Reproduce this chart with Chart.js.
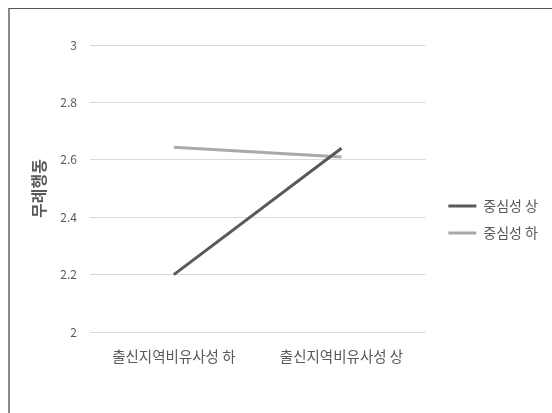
<!DOCTYPE html>
<html>
<head>
<meta charset="utf-8">
<script src="https://cdn.jsdelivr.net/npm/chart.js"></script>
<style>
  body { margin: 0; background: #fff; }
  #wrap { position: relative; width: 552px; height: 413px; overflow: hidden; }
  #frame { position: absolute; left: 8px; top: 8px; width: 700px; height: 600px;
           border-left: 2px solid #8a8a8a; border-top: 1px solid #555; }
  #chart { position: absolute; left: 0; top: 0; }
</style>
</head>
<body>
<div id="wrap">
  <div id="frame"></div>
  <canvas id="chart" width="552" height="413"></canvas>
</div>
<script>
// categories and series
const categories = ['출신지역비유사성 하', '출신지역비유사성 상'];
const seriesNames = ['중심성 상', '중심성 하'];
const highValues = [2.2, 2.64];
const lowValues = [2.644, 2.61];
const yTitle = '무례행동';
const yMin = 2;
const yMax = 3;
const yStep = 0.2;

const fontFamily = "'Noto Sans CJK KR', 'Noto Sans', sans-serif";
const textColor = '#595959';

const chartCtx = document.getElementById('chart').getContext('2d');
const chart = new Chart(chartCtx, {
  type: 'line',
  data: {
    labels: categories,
    datasets: [
      {
        label: seriesNames[0],
        data: highValues,
        borderColor: '#595959',
        backgroundColor: '#595959',
        borderWidth: 3,
        pointRadius: 0,
        tension: 0,
        fill: false
      },
      {
        label: seriesNames[1],
        data: lowValues,
        borderColor: '#a9a9a9',
        backgroundColor: '#a9a9a9',
        borderWidth: 3,
        pointRadius: 0,
        tension: 0,
        fill: false
      }
    ]
  },
  options: {
    responsive: false,
    animation: false,
    devicePixelRatio: 1,
    layout: { padding: { top: 45, right: 4, bottom: 31, left: 0 } },
    plugins: {
      tooltip: { enabled: false },
      legend: {
        position: 'right',
        align: 'center',
        maxWidth: 116,
        // blank title just pushes the entries down a little
        title: { display: true, text: '', font: { size: 5 }, padding: { top: 0, bottom: 6 } },
        labels: {
          usePointStyle: true,
          pointStyle: 'line',
          pointStyleWidth: 28,
          padding: 13,
          color: textColor,
          font: { family: fontFamily, size: 14 }
        }
      }
    },
    scales: {
      x: {
        offset: true,
        grid: { display: false, drawTicks: false },
        border: { display: false },
        ticks: {
          color: textColor,
          padding: 16,
          font: { family: fontFamily, size: 14.5 }
        },
        afterFit: function (scale) { scale.height = 50; }
      },
      y: {
        min: yMin,
        max: yMax,
        grid: { color: '#d9d9d9', drawTicks: false },
        border: { display: false },
        ticks: {
          stepSize: yStep,
          color: textColor,
          padding: 13,
          font: { family: fontFamily, size: 12 },
          callback: function (value) { return String(Math.round(value * 10) / 10); }
        },
        title: {
          display: true,
          text: yTitle,
          color: textColor,
          padding: { top: 29, bottom: 0 },
          font: { family: fontFamily, size: 16, weight: 'bold' }
        },
        afterFit: function (scale) { scale.width = 90; }
      },
      // empty spacer between the plot and the legend
      gap: {
        type: 'linear',
        position: 'right',
        grid: { display: false },
        border: { display: false },
        ticks: { display: false },
        afterFit: function (scale) { scale.width = 10; }
      }
    }
  }
});
</script>
</body>
</html>
